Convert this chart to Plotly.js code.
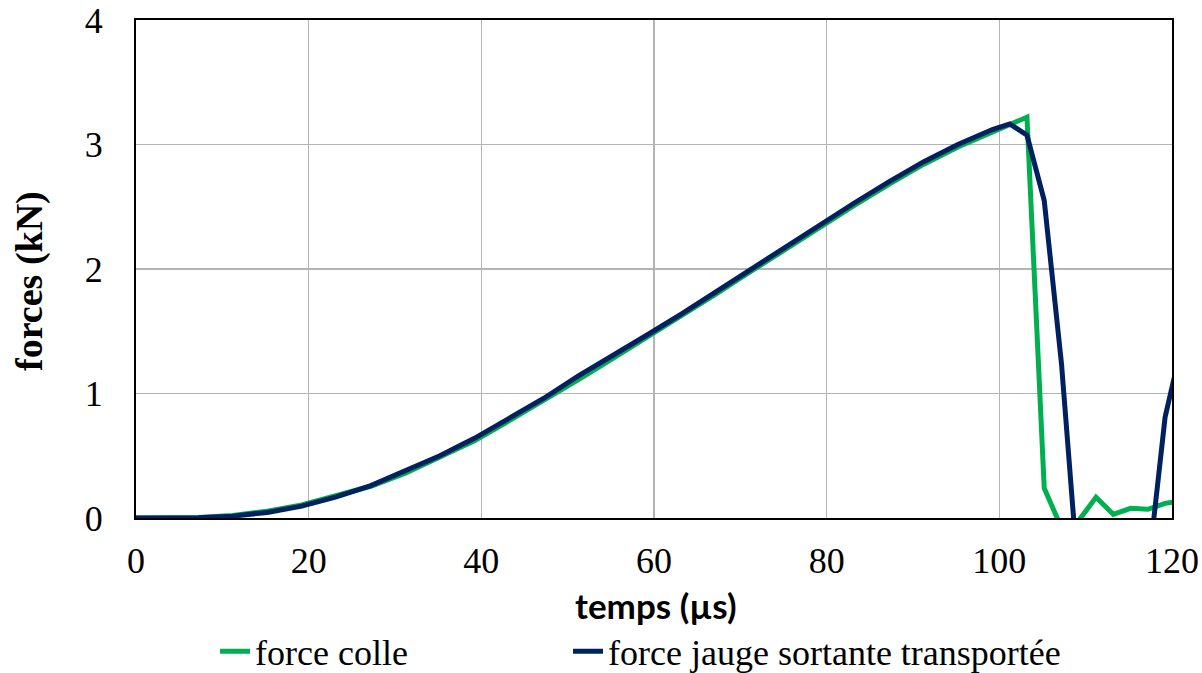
<!DOCTYPE html>
<html>
<head>
<meta charset="utf-8">
<script src="https://cdn.plot.ly/plotly-3.0.1.min.js"></script>
<style>html,body{margin:0;padding:0;background:#fff;}#chart{width:1202px;height:673px;}</style>
</head>
<body>
<div id="chart"></div>
<script>
// time (µs)
var temps = [0, 3.2, 7.2, 11.2, 15.2, 19.2, 23.2, 27.2, 31.2, 35.2, 39.2, 43.2, 47.2, 51.2, 55.2, 59.2,
  63.2, 67.2, 71.2, 75.2, 79.2, 83.2, 87.2, 91.2, 95.2, 99.2, 101.2, 103.2, 105.2, 107.2, 109.2,
  111.2, 113.2, 115.2, 117.2, 119.2, 121.2];
// force colle (kN)
var forceColle = [0, 0, 0.004, 0.02, 0.055, 0.105, 0.175, 0.255, 0.36, 0.485, 0.62, 0.78, 0.94, 1.11, 1.28, 1.45,
  1.62, 1.80, 1.98, 2.16, 2.34, 2.51, 2.68, 2.84, 2.98, 3.10, 3.16, 3.22, 0.24, -0.08, -0.02,
  0.166, 0.03, 0.078, 0.07, 0.118, 0.14];
// force jauge sortante transportée (kN)
var forceJauge = [0, 0, 0.003, 0.015, 0.045, 0.095, 0.17, 0.26, 0.375, 0.5, 0.64, 0.80, 0.96, 1.14, 1.30, 1.47,
  1.64, 1.82, 2.00, 2.18, 2.36, 2.53, 2.70, 2.86, 3.00, 3.12, 3.165, 3.075, 2.55, 1.24, -0.53,
  -0.6, -0.6, -0.5, -0.44, 0.81, 1.41];
var xTicks = [0, 20, 40, 60, 80, 100, 120];
var yTicks = [0, 1, 2, 3, 4];
var xTitle = 'temps (µs)';
var yTitle = 'forces (kN)';

var traces = [
  {x: temps, y: forceColle, type: 'scatter', mode: 'lines', name: 'force colle',
   line: {color: '#00B050', width: 5}, legend: 'legend'},
  {x: temps, y: forceJauge, type: 'scatter', mode: 'lines', name: 'force jauge sortante transportée',
   line: {color: '#002060', width: 5}, legend: 'legend2'}
];

var legendFont = {family: 'Liberation Serif, serif', size: 36, color: '#000'};
var layout = {
  width: 1202, height: 673,
  margin: {l: 136, r: 30, t: 20, b: 155, autoexpand: false},
  paper_bgcolor: '#fff', plot_bgcolor: '#fff',
  font: {family: 'Liberation Serif, serif', size: 36, color: '#000'},
  showlegend: true,
  legend: {x: 0.0763, xanchor: 'left', y: -0.268, yanchor: 'middle',
    font: legendFont, bgcolor: 'rgba(0,0,0,0)'},
  legend2: {x: 0.417, xanchor: 'left', y: -0.268, yanchor: 'middle',
    font: legendFont, bgcolor: 'rgba(0,0,0,0)'},
  xaxis: {
    range: [0, 120], tickvals: xTicks, ticktext: xTicks.map(String),
    showgrid: true, gridcolor: '#b4b4b4', gridwidth: 1.3,
    showline: true, mirror: true, linecolor: '#000', linewidth: 2,
    ticks: 'outside', ticklen: 10, tickcolor: 'rgba(0,0,0,0)',
    zeroline: false, fixedrange: true,
    tickfont: {family: 'Liberation Serif, serif', size: 36, color: '#000'}
  },
  yaxis: {
    range: [0, 4], tickvals: yTicks, ticktext: yTicks.map(String),
    showgrid: true, gridcolor: '#b4b4b4', gridwidth: 1.3,
    showline: true, mirror: true, linecolor: '#000', linewidth: 2,
    ticks: 'outside', ticklen: 24, tickcolor: 'rgba(0,0,0,0)',
    zeroline: false, fixedrange: true,
    tickfont: {family: 'Liberation Serif, serif', size: 36, color: '#000'}
  },
  annotations: [
    {text: '<b>' + xTitle + '</b>', xref: 'paper', yref: 'paper', x: 0.502, y: -0.174,
     xanchor: 'center', yanchor: 'middle', showarrow: false,
     font: {family: 'Lato, sans-serif', size: 35, color: '#000'}},
    {text: '<b>' + yTitle + '</b>', xref: 'paper', yref: 'paper', x: -0.1023, y: 0.476,
     xanchor: 'center', yanchor: 'middle', showarrow: false, textangle: -90,
     font: {family: 'Liberation Serif, serif', size: 38, color: '#000'}}
  ]
};

Plotly.newPlot('chart', traces, layout, {displayModeBar: false, staticPlot: true});
</script>
</body>
</html>
